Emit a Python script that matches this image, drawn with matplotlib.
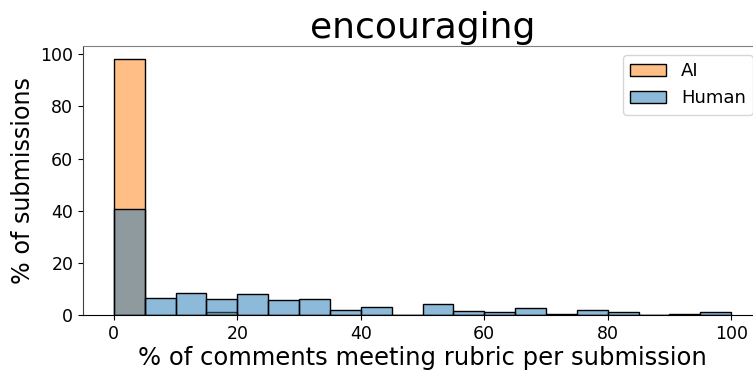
import numpy as np
import matplotlib
matplotlib.use("Agg")
import matplotlib.pyplot as plt
from matplotlib.colors import to_rgba

# percent of submissions per 5%-wide bin (0-5, 5-10, ..., 95-100)
BIN_EDGES = np.arange(0, 105, 5)
AI_PCT = [98.3, 0, 0, 1.3, 0, 0, 0, 0, 0, 0,
          0, 0, 0, 0, 0, 0, 0, 0, 0, 0]
HUMAN_PCT = [40.5, 6.6, 8.5, 6.0, 7.9, 5.6, 6.3, 1.9, 3.2, 0,
             4.1, 1.5, 1.1, 2.6, 0.3, 1.9, 1.0, 0, 0.3, 1.3]

AI_COLOR = to_rgba('#ff7f0e', 0.5)
HUMAN_COLOR = to_rgba('#1f77b4', 0.5)

fig = plt.figure(figsize=(7.53, 3.70), dpi=100)
ax = fig.add_axes([83 / 753, 55 / 370, 679 / 753, 269 / 370])

left = BIN_EDGES[:-1]
width = np.diff(BIN_EDGES)
ax.bar(left, AI_PCT, width=width, align='edge', facecolor=AI_COLOR,
       edgecolor='black', linewidth=1.0, label='AI')
ax.bar(left, HUMAN_PCT, width=width, align='edge', facecolor=HUMAN_COLOR,
       edgecolor='black', linewidth=1.0, label='Human')

ax.set_xlim(-5, 105)
ax.set_ylim(0, 103.2)
ax.set_xticks([0, 20, 40, 60, 80, 100])
ax.set_yticks([0, 20, 40, 60, 80, 100])
ax.tick_params(labelsize=12.5)

for side in ('top', 'right'):
    ax.spines[side].set_edgecolor('#808080')
ax.spines['left'].set_edgecolor('#404040')

ax.set_title('encouraging', fontsize=26)
ax.set_xlabel('% of comments meeting rubric per submission', fontsize=17.5, labelpad=2)
ax.set_ylabel('% of submissions', fontsize=17.2)
ax.legend(loc='upper right', fontsize=13)

fig.savefig('out.png', dpi=100)
